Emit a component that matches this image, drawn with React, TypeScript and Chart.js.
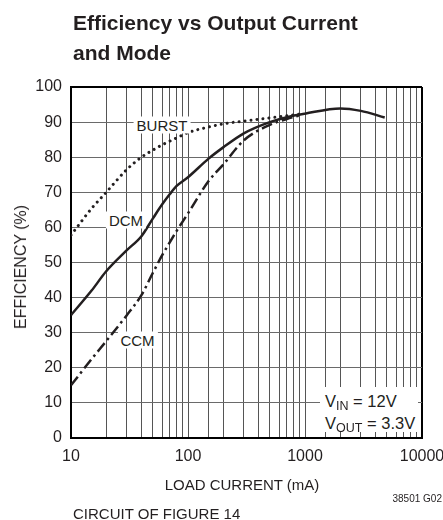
import React, { useEffect, useRef } from "react";
import { Chart, registerables } from "chart.js";

Chart.register(...registerables);

// ---- data ----
const xTickLabels = [10, 100, 1000, 10000];
const yTickStep = 10;

const burstCurrent = [10, 15, 20, 30, 40, 50, 60, 80, 100, 150, 200, 300, 500, 700, 900];
const burstEff = [57.8, 65.4, 70, 76.5, 80, 82, 83.5, 85.5, 87, 88.6, 89.5, 90.3, 91.2, 91.8, 92.3];

const dcmCurrent = [10, 15, 20, 30, 40, 50, 60, 70, 80, 100, 150, 200, 300, 500, 700, 1000, 2000, 3000, 4800];
const dcmEff = [35, 42, 47.5, 53.5, 57.5, 62.5, 66.5, 69.5, 71.8, 74.3, 79.6, 82.8, 86.8, 90, 91.4, 92.4, 93.9, 93.2, 91.3];

const ccmCurrent = [10, 15, 20, 30, 40, 50, 60, 70, 80, 100, 150, 200, 300, 500, 700, 900];
const ccmEff = [15, 22.5, 27.6, 35, 40.7, 47, 52, 55.8, 59, 64, 73.2, 77.9, 84.8, 89.2, 90.9, 91.9];

const INK = "#231f20";
const FONT = "'Liberation Sans', Arial, Helvetica, sans-serif";

const toPoints = (xs: number[], ys: number[]) => xs.map((x, i) => ({ x, y: ys[i] }));

const isDecade = (v: number) => {
  const l = Math.log10(v);
  return Math.abs(l - Math.round(l)) < 1e-9;
};

function Label(props: { cx: number; cy: number; size: number; children: React.ReactNode }) {
  return (
    <div
      style={{
        position: "absolute",
        left: props.cx,
        top: props.cy,
        transform: "translate(-50%, -50%)",
        background: "#fff",
        padding: "1px 3px",
        fontSize: props.size,
        lineHeight: 1,
        whiteSpace: "nowrap",
      }}
    >
      {props.children}
    </div>
  );
}

export default function App() {
  const canvasRef = useRef<HTMLCanvasElement | null>(null);

  useEffect(() => {
    const canvas = canvasRef.current;
    if (!canvas) return;
    const chart = new Chart(canvas, {
      type: "line",
      data: {
        datasets: [
          {
            label: "BURST",
            data: toPoints(burstCurrent, burstEff),
            borderColor: INK,
            borderWidth: 3,
            borderDash: [0.01, 6],
            borderCapStyle: "round",
            pointRadius: 0,
            cubicInterpolationMode: "monotone",
            fill: false,
          },
          {
            label: "DCM",
            data: toPoints(dcmCurrent, dcmEff),
            borderColor: INK,
            borderWidth: 2.5,
            pointRadius: 0,
            cubicInterpolationMode: "monotone",
            fill: false,
          },
          {
            label: "CCM",
            data: toPoints(ccmCurrent, ccmEff),
            borderColor: INK,
            borderWidth: 2.5,
            borderDash: [11, 4, 2.5, 4],
            pointRadius: 0,
            cubicInterpolationMode: "monotone",
            fill: false,
          },
        ],
      },
      options: {
        responsive: false,
        animation: false,
        devicePixelRatio: 1,
        layout: { padding: { left: 0, top: 87, right: 21, bottom: 0 } },
        plugins: {
          legend: { display: false },
          tooltip: { enabled: false },
          title: { display: false },
        },
        scales: {
          x: {
            type: "logarithmic",
            min: 10,
            max: 10000,
            afterFit: (s: any) => {
              s.height = 82;
              s.paddingLeft = 0;
              s.paddingRight = 0;
            },
            border: { display: true, color: "#000", width: 2 },
            grid: {
              drawTicks: false,
              color: (c: any) => (c.tick && c.tick.value === 10000 ? "#000" : "#555"),
              lineWidth: (c: any) => (c.tick && c.tick.value === 10000 ? 2 : 1),
            },
            ticks: {
              autoSkip: false,
              maxRotation: 0,
              padding: 9,
              color: INK,
              font: { family: FONT, size: 16 },
              callback: (v: any) => {
                const n = Number(v);
                return isDecade(n) && xTickLabels.includes(Math.round(n)) ? String(Math.round(n)) : "";
              },
            },
          },
          y: {
            type: "linear",
            min: 0,
            max: 100,
            afterFit: (s: any) => {
              s.width = 71;
            },
            border: { display: true, color: "#000", width: 2 },
            grid: {
              drawTicks: false,
              color: (c: any) => (c.tick && c.tick.value === 100 ? "#000" : "#6a6a6a"),
              lineWidth: (c: any) => (c.tick && c.tick.value === 100 ? 2 : 1),
            },
            ticks: {
              stepSize: yTickStep,
              padding: 9,
              color: INK,
              font: { family: FONT, size: 16 },
            },
          },
        },
      } as any,
    });
    return () => chart.destroy();
  }, []);

  return (
    <div
      style={{
        position: "absolute",
        left: 0,
        top: 0,
        width: 443,
        height: 520,
        overflow: "hidden",
        fontFamily: FONT,
        color: INK,
        background: "#fff",
      }}
    >
      <canvas ref={canvasRef} width={443} height={520} style={{ display: "block", position: "absolute", left: 0, top: 0 }} />
      <div
        style={{
          position: "absolute",
          left: 73,
          top: 8,
          fontSize: 21,
          fontWeight: "bold",
          lineHeight: "29.5px",
          whiteSpace: "nowrap",
        }}
      >
        Efficiency vs Output Current
        <br />
        and Mode
      </div>
      <div
        style={{
          position: "absolute",
          left: 21,
          top: 267,
          transform: "translate(-50%, -50%) rotate(-90deg)",
          fontSize: 16,
          lineHeight: 1,
          whiteSpace: "nowrap",
        }}
      >
        EFFICIENCY (%)
      </div>
      <div
        style={{
          position: "absolute",
          left: 242,
          top: 483.5,
          transform: "translate(-50%, -50%)",
          fontSize: 15,
          lineHeight: 1,
          whiteSpace: "nowrap",
        }}
      >
        LOAD CURRENT (mA)
      </div>
      <div
        style={{
          position: "absolute",
          right: 1,
          top: 499,
          transform: "translateY(-50%)",
          fontSize: 10,
          lineHeight: 1,
          whiteSpace: "nowrap",
        }}
      >
        38501 G02
      </div>
      <div
        style={{
          position: "absolute",
          left: 73,
          top: 512.5,
          transform: "translateY(-50%)",
          fontSize: 15,
          lineHeight: 1,
          whiteSpace: "nowrap",
        }}
      >
        CIRCUIT OF FIGURE 14
      </div>
      <Label cx={162} cy={124.5} size={15}>BURST</Label>
      <Label cx={126} cy={219.5} size={15}>DCM</Label>
      <Label cx={137.5} cy={339.5} size={15}>CCM</Label>
      <div
        style={{
          position: "absolute",
          left: 320,
          top: 387,
          width: 98,
          height: 45,
          background: "#fff",
          boxSizing: "border-box",
          paddingLeft: 5,
          paddingTop: 4,
          fontSize: 16.5,
          lineHeight: "20px",
          whiteSpace: "nowrap",
        }}
      >
        <div>
          V<span style={{ fontSize: 12.5, position: "relative", top: 3 }}>IN</span> = 12V
        </div>
        <div>
          V<span style={{ fontSize: 12.5, position: "relative", top: 3 }}>OUT</span> = 3.3V
        </div>
      </div>
    </div>
  );
}
